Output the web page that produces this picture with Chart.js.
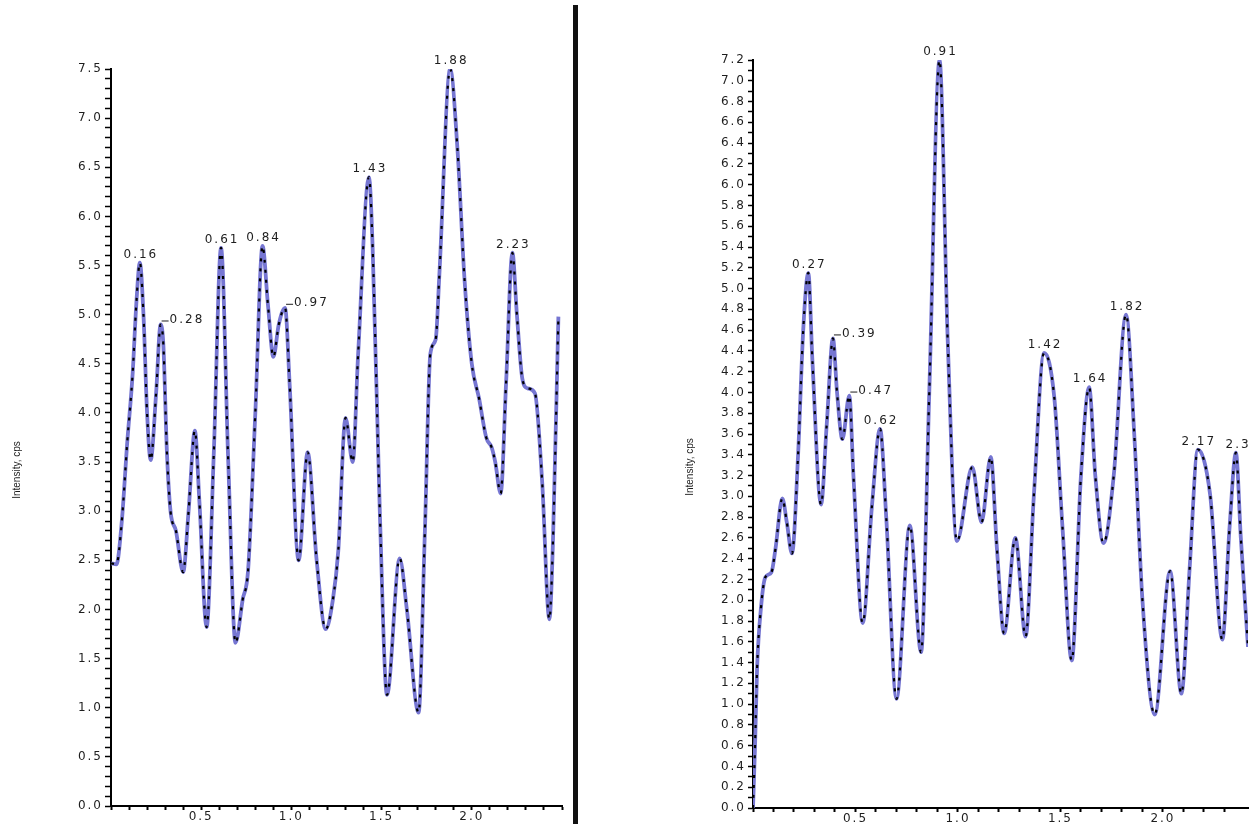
<!DOCTYPE html>
<html>
<head>
<meta charset="utf-8">
<script src="https://cdn.jsdelivr.net/npm/chart.js@4.4.1/dist/chart.umd.min.js"></script>
<style>
  html, body { margin:0; padding:0; background:#ffffff; width:1250px; height:824px; overflow:hidden; }
  #left { position:absolute; left:0; top:0; }
  #right { position:absolute; left:580px; top:0; }
  #divider { position:absolute; left:573px; top:5px; width:5px; height:819px; background:#111; }
</style>
</head>
<body>
<canvas id="left" width="570" height="824"></canvas>
<div id="divider"></div>
<canvas id="right" width="670" height="824"></canvas>
<script>
// ---- Left chart data ----
const leftX = [0.00,0.03,0.06,0.09,0.12,0.14,0.16,0.18,0.20,0.22,0.25,0.275,0.29,0.31,0.33,0.36,0.40,0.43,0.465,0.49,0.53,0.57,0.61,0.65,0.69,0.73,0.76,0.80,0.84,0.87,0.90,0.93,0.965,0.99,1.04,1.09,1.14,1.19,1.23,1.26,1.30,1.34,1.37,1.43,1.45,1.49,1.53,1.60,1.64,1.705,1.74,1.77,1.80,1.82,1.88,1.92,1.96,2.00,2.04,2.08,2.11,2.13,2.16,2.19,2.225,2.25,2.28,2.31,2.35,2.39,2.43,2.45,2.48];
const leftY = [2.47,2.46,2.9,3.7,4.4,5.1,5.53,5.0,4.0,3.52,4.2,4.9,4.7,3.6,3.0,2.8,2.38,3.0,3.82,3.1,1.82,3.6,5.68,3.5,1.66,2.1,2.4,4.0,5.7,5.1,4.57,4.9,5.07,4.3,2.5,3.6,2.5,1.8,2.1,2.6,3.95,3.5,4.6,6.4,5.7,3.0,1.13,2.52,2.0,0.95,2.8,4.6,4.75,5.4,7.5,6.7,5.35,4.5,4.15,3.75,3.65,3.5,3.18,4.3,5.63,5.0,4.35,4.25,4.2,3.3,1.9,2.7,4.98];
const leftPeakX = [0.16,0.275,0.61,0.84,0.965,1.43,1.88,2.225];
const leftPeakText = ['0.16','0.28','0.61','0.84','0.97','1.43','1.88','2.23'];
const leftPeakLeader = [false,true,false,false,true,false,false,false];
const leftXTickLabels = ['0.5','1.0','1.5','2.0'];
const leftYTickLabels = ['0.0','0.5','1.0','1.5','2.0','2.5','3.0','3.5','4.0','4.5','5.0','5.5','6.0','6.5','7.0','7.5'];

// ---- Right chart data ----
const rightX = [0.00,0.01,0.02,0.04,0.06,0.09,0.11,0.143,0.165,0.19,0.22,0.245,0.27,0.29,0.332,0.36,0.39,0.41,0.436,0.47,0.49,0.535,0.58,0.62,0.65,0.70,0.765,0.82,0.86,0.91,0.95,0.995,1.07,1.115,1.16,1.19,1.225,1.28,1.33,1.37,1.42,1.47,1.51,1.555,1.60,1.64,1.67,1.71,1.76,1.82,1.86,1.90,1.96,2.035,2.09,2.13,2.17,2.23,2.29,2.325,2.356,2.38,2.415];
const rightY = [0.0,0.6,1.35,1.95,2.22,2.27,2.5,2.98,2.75,2.45,3.4,4.6,5.15,4.3,2.92,3.7,4.52,4.0,3.55,3.97,3.2,1.78,2.9,3.65,2.8,1.05,2.72,1.5,4.0,7.2,4.5,2.57,3.28,2.75,3.38,2.5,1.68,2.6,1.65,3.0,4.38,3.95,2.7,1.42,3.2,4.05,3.2,2.55,3.2,4.75,3.6,2.0,0.9,2.28,1.1,2.3,3.45,3.02,1.62,2.7,3.42,2.6,1.55];
const rightPeakX = [0.27,0.39,0.47,0.62,0.91,1.42,1.64,1.82,2.17,2.356];
const rightPeakText = ['0.27','0.39','0.47','0.62','0.91','1.42','1.64','1.82','2.17','2.36'];
const rightPeakLeader = [false,true,true,false,false,false,false,false,false,false];
const rightXTickLabels = ['0.5','1.0','1.5','2.0'];
const rightYTickLabels = ['0.0','0.2','0.4','0.6','0.8','1.0','1.2','1.4','1.6','1.8','2.0','2.2','2.4','2.6','2.8','3.0','3.2','3.4','3.6','3.8','4.0','4.2','4.4','4.6','4.8','5.0','5.2','5.4','5.6','5.8','6.0','6.2','6.4','6.6','6.8','7.0','7.2'];

const yTitle = 'Intensity, cps';
const TEXT = '#1e1e1e';

function isStep(v, step) {
  const r = v / step;
  return Math.abs(r - Math.round(r)) < 1e-6;
}

function makeChart(id, xs, ys, peakX, peakText, peakLeader, xLabels, yLabels, cfg) {
  const pts = xs.map((x, i) => ({x: x, y: ys[i]}));
  const spacing = {
    id: 'spacing',
    beforeLayout(chart) { chart.ctx.letterSpacing = '2px'; },
    beforeDraw(chart) { chart.ctx.letterSpacing = '2px'; }
  };
  const annot = {
    id: 'annot',
    afterDraw(chart) {
      const ctx = chart.ctx;
      const sx = chart.scales.x, sy = chart.scales.y;
      ctx.save();
      ctx.letterSpacing = '2px';
      ctx.fillStyle = TEXT;
      ctx.strokeStyle = TEXT;
      ctx.font = '12px "DejaVu Sans"';
      peakX.forEach((px, k) => {
        const i = xs.indexOf(px);
        const X = sx.getPixelForValue(px);
        const Y = sy.getPixelForValue(ys[i]);
        if (peakLeader[k]) {
          ctx.lineWidth = 1;
          ctx.beginPath();
          ctx.moveTo(X + 1, Y - 3.5);
          ctx.lineTo(X + 8, Y - 3.5);
          ctx.stroke();
          ctx.textAlign = 'left';
          ctx.textBaseline = 'middle';
          ctx.fillText(peakText[k], X + 9, Y - 5);
        } else {
          ctx.textAlign = 'center';
          ctx.textBaseline = 'bottom';
          ctx.fillText(peakText[k], X + 1 + cfg.labelShift * (k === peakX.length - 1 ? 1 : 0), Y - 2);
        }
      });
      // y axis title
      ctx.letterSpacing = '0px';
      ctx.font = '10px "Liberation Sans"';
      ctx.translate(cfg.titleX, cfg.titleY);
      ctx.rotate(-Math.PI / 2);
      ctx.textAlign = 'center';
      ctx.textBaseline = 'middle';
      ctx.fillText(yTitle, 0, 0);
      ctx.restore();
    }
  };
  return new Chart(document.getElementById(id), {
    type: 'line',
    data: {
      datasets: [
        { data: pts, borderColor: '#000', borderWidth: 2.2, borderDash: [3, 7],
          pointRadius: 0, cubicInterpolationMode: 'monotone', fill: false },
        { data: pts, borderColor: 'rgb(118,118,210)', borderWidth: 3.8,
          pointRadius: 0, cubicInterpolationMode: 'monotone', fill: false }
      ]
    },
    options: {
      responsive: false,
      animation: false,
      devicePixelRatio: 1,
      layout: { padding: { left: 0, right: cfg.padRight, top: cfg.padTop, bottom: 0 } },
      plugins: { legend: { display: false }, tooltip: { enabled: false }, title: { display: false } },
      scales: {
        x: {
          type: 'linear', min: 0, max: cfg.xMax,
          afterFit(s) { s.height = cfg.xHeight; },
          border: { display: true, color: '#000', width: 2 },
          grid: { drawOnChartArea: false, drawTicks: true, tickLength: 4,
                  tickColor: c => isStep(c.tick.value, 0.1) ? '#000' : 'rgba(0,0,0,0)', tickWidth: 2 },
          ticks: { stepSize: 0.1, autoSkip: false, maxRotation: 0, minRotation: 0, padding: 0,
                   maxTicksLimit: 1000, color: TEXT, font: { family: 'DejaVu Sans', size: 12 },
                   callback: v => { const s = v.toFixed(1); return (isStep(v, 0.1) && xLabels.includes(s)) ? s : ''; } }
        },
        y: {
          type: 'linear', min: 0, max: cfg.yMax,
          afterFit(s) { s.width = cfg.yWidth; },
          border: { display: true, color: '#000', width: 2 },
          grid: { drawOnChartArea: false, drawTicks: true, tickLength: cfg.yTick, tickColor: '#000', tickWidth: 1.5 },
          ticks: { stepSize: 0.1, autoSkip: false, padding: cfg.yPad, maxTicksLimit: 1000,
                   color: TEXT, font: { family: 'DejaVu Sans', size: 12 },
                   callback: v => { const s = v.toFixed(1); return (isStep(v, cfg.yLabelStep) && yLabels.includes(s)) ? s : ''; } }
        }
      }
    },
    plugins: [spacing, annot]
  });
}

makeChart('left', leftX, leftY, leftPeakX, leftPeakText, leftPeakLeader, leftXTickLabels, leftYTickLabels,
  { xMax: 2.5, yMax: 7.5, yLabelStep: 0.5, padRight: 8, padTop: 69, xHeight: 18, yWidth: 111, yTick: 6, yPad: 2,
    titleX: 17, titleY: 470, labelShift: 0 });

makeChart('right', rightX, rightY, rightPeakX, rightPeakText, rightPeakLeader, rightXTickLabels, rightYTickLabels,
  { xMax: 2.415, yMax: 7.2, yLabelStep: 0.2, padRight: 2, padTop: 60, xHeight: 16, yWidth: 173, yTick: 5, yPad: 2,
    titleX: 110, titleY: 467, labelShift: 6 });
</script>
</body>
</html>
